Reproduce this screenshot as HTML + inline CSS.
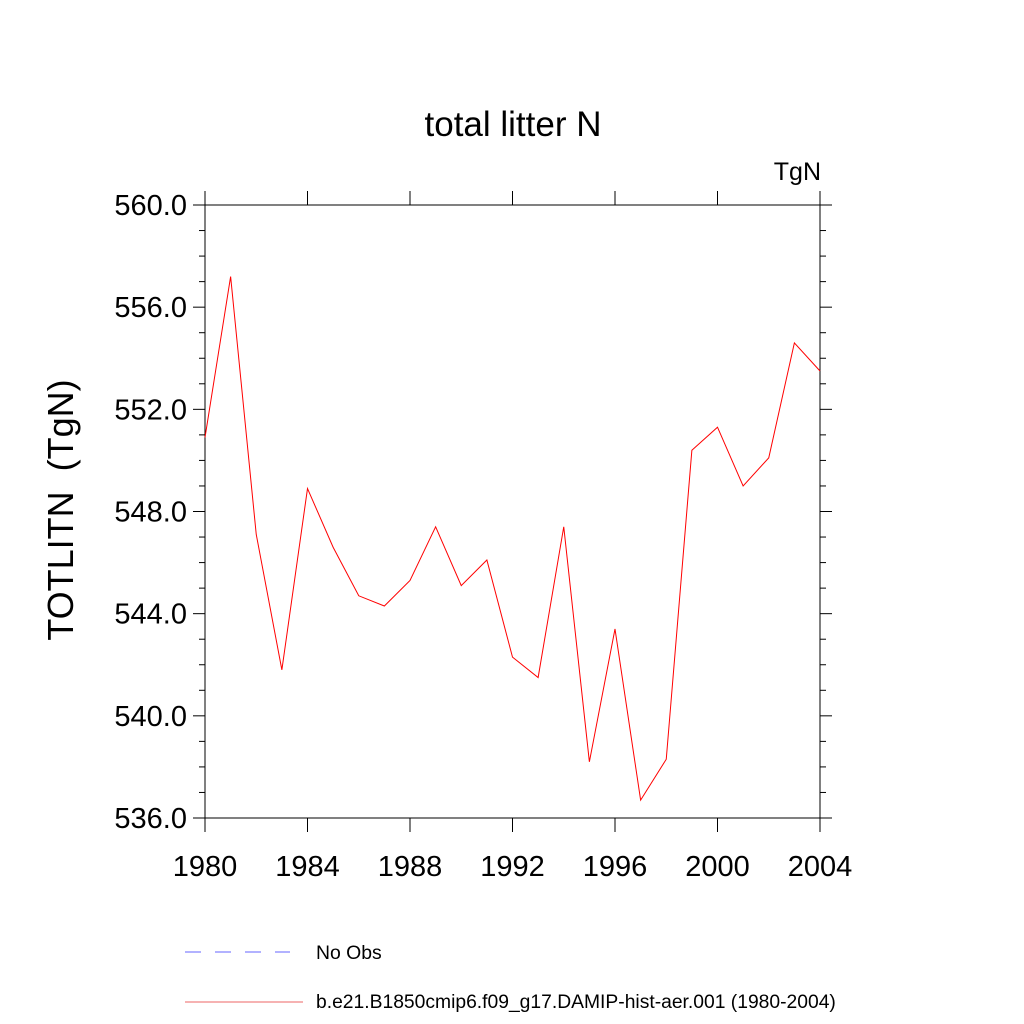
<!DOCTYPE html>
<html><head><meta charset="utf-8"><style>
body{margin:0;background:#fff}
svg{display:block}
text{font-family:"Liberation Sans",sans-serif;fill:#000}
</style></head><body>
<svg id="chart" width="1024" height="1024">
<text x="513" y="136" font-size="35" text-anchor="middle">total litter N</text>
<text x="821" y="180" font-size="25" text-anchor="end">TgN</text>
<text transform="translate(73,510) rotate(-90)" font-size="36" text-anchor="middle" xml:space="preserve">TOTLITN  (TgN)</text>
<g id="axes"></g>
<g id="series"></g>
<g>
<line x1="185" y1="952" x2="290" y2="952" stroke="#6666ff" stroke-width="1" stroke-dasharray="16,14"/>
<text x="316" y="959" font-size="19.4">No Obs</text>
<line x1="185" y1="1002" x2="303" y2="1002" stroke="#e66" stroke-width="1"/>
<text x="316" y="1008" font-size="19.3">b.e21.B1850cmip6.f09_g17.DAMIP-hist-aer.001 (1980-2004)</text>
</g>
</svg>
<script>
const years=[1980,1981,1982,1983,1984,1985,1986,1987,1988,1989,1990,1991,1992,1993,1994,1995,1996,1997,1998,1999,2000,2001,2002,2003,2004];
const values=[550.9,557.2,547.1,541.8,548.9,546.6,544.7,544.3,545.3,547.4,545.1,546.1,542.3,541.5,547.4,538.2,543.4,536.7,538.3,550.4,551.3,549.0,550.1,554.6,553.5];
const xTicks=[1980,1984,1988,1992,1996,2000,2004];
const yTicks=["536.0","540.0","544.0","548.0","552.0","556.0","560.0"];
const X0=205,X1=820,Y0=818,Y1=205;
const xs=v=>X0+(v-1980)/(2004-1980)*(X1-X0);
const ys=v=>Y0-(v-536)/(560-536)*(Y0-Y1);
const NS="http://www.w3.org/2000/svg";
const ax=document.getElementById('axes');
function ln(x1,y1,x2,y2,name){const l=document.createElementNS(NS,'line');l.setAttribute('x1',x1);l.setAttribute('y1',y1);l.setAttribute('x2',x2);l.setAttribute('y2',y2);l.setAttribute('stroke','#000');l.setAttribute('stroke-width','1');


ax.appendChild(l);}
const fr=document.createElementNS(NS,'rect');fr.setAttribute('x',X0);fr.setAttribute('y',Y1);fr.setAttribute('width',X1-X0);fr.setAttribute('height',Y0-Y1);fr.setAttribute('fill','none');fr.setAttribute('stroke','#000');


ax.appendChild(fr);
for(let v=536;v<=560;v++){const y=ys(v);const L=(v%4===0)?12:6;ln(X0-L,y,X0,y,'y-tick');ln(X1,y,X1+L,y,'y-tick-right');}
yTicks.forEach(t=>{const tx=document.createElementNS(NS,'text');tx.setAttribute('x',X0-18);tx.setAttribute('y',ys(parseFloat(t))+10);tx.setAttribute('font-size','29');tx.setAttribute('text-anchor','end');tx.textContent=t;


ax.appendChild(tx);});
xTicks.forEach(t=>{const x=xs(t);ln(x,Y0,x,Y0+14,'x-tick');ln(x,Y1-14,x,Y1,'x-tick-top');const tx=document.createElementNS(NS,'text');tx.setAttribute('x',x);tx.setAttribute('y',Y0+58);tx.setAttribute('font-size','29');tx.setAttribute('text-anchor','middle');tx.textContent=t;


ax.appendChild(tx);});
const p=document.createElementNS(NS,'polyline');
p.setAttribute('points',years.map((y,i)=>xs(y)+','+ys(values[i])).join(' '));
p.setAttribute('fill','none');p.setAttribute('stroke','#f00');p.setAttribute('stroke-width','1');


document.getElementById('series').appendChild(p);
</script>
</body></html>
